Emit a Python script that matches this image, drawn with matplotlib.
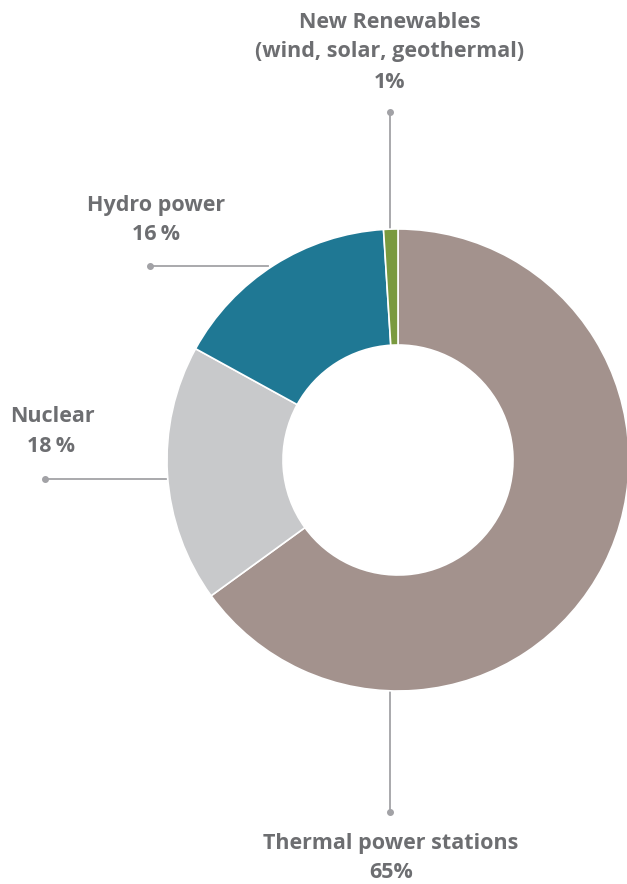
import matplotlib
matplotlib.use("Agg")
import matplotlib.pyplot as plt

plt.rcParams['font.family'] = ['Open Sans', 'DejaVu Sans']

# data, clockwise from the top
labels = ['Thermal power stations', 'Nuclear', 'Hydro power',
          'New Renewables']
sub_label = '(wind, solar, geothermal)'
shares = [65, 18, 16, 1]
pct_text = ['65%', '18\u2009%', '16\u2009%', '1%']
colors = ['#a3928d', '#c8c9cb', '#1f7894', '#7a9a3f']

W, H = 627, 884
fig = plt.figure(figsize=(W / 100, H / 100), dpi=100)
ax = fig.add_axes([0, 0, 1, 1])

cx, cy, r = 398, H - 460, 231
ax.pie(shares, colors=colors, startangle=90, counterclock=False,
       center=(cx, cy), radius=r, frame=True,
       wedgeprops=dict(width=116, edgecolor='white', linewidth=1.2))
ax.set_xlim(0, W)
ax.set_ylim(0, H)
ax.axis('off')

txt = '#6d6e71'
line_c = '#a2a2a6'

def leader(xs, ys, dot):
    ax.plot(xs, [H - y for y in ys], color=line_c, lw=1.3, zorder=0)
    ax.plot(dot[0], H - dot[1], 'o', color=line_c, ms=4, zorder=0)

def label(x, y, s, size=15.5):
    ax.text(x, H - y, s, ha='center', va='center', fontsize=size,
            fontweight='bold', color=txt)

# New Renewables
leader([390, 390], [112, 229], (390, 112))
label(390, 22, labels[3])
label(390, 52, sub_label)
label(390, 82, pct_text[3])

# Hydro
leader([150, 268], [266, 266], (150, 266))
label(156, 205, labels[2])
label(156, 234, pct_text[2])

# Nuclear
leader([45, 166], [479, 479], (45, 479))
label(52, 417, labels[1])
label(51, 446, pct_text[1])

# Thermal
leader([390, 390], [692, 812], (390, 812))
label(391, 843, labels[0])
label(391, 873, pct_text[0])

fig.savefig('out.png', dpi=100)
